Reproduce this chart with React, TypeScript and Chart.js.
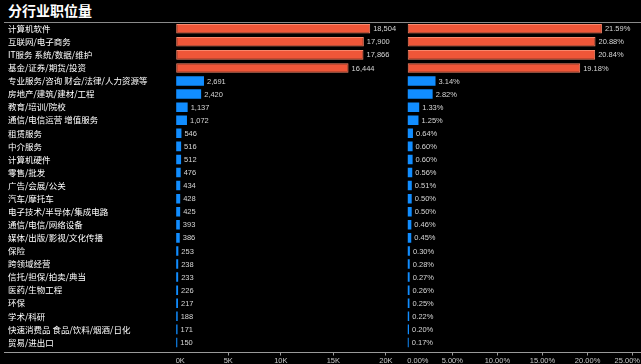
import React, { useEffect, useRef } from 'react';
import { Chart, registerables } from 'chart.js';

Chart.register(...registerables);

const categories = [
  '计算机软件',
  '互联网/电子商务',
  'IT服务 系统/数据/维护',
  '基金/证券/期货/投资',
  '专业服务/咨询 财会/法律/人力资源等',
  '房地产/建筑/建材/工程',
  '教育/培训/院校',
  '通信/电信运营 增值服务',
  '租赁服务',
  '中介服务',
  '计算机硬件',
  '零售/批发',
  '广告/会展/公关',
  '汽车/摩托车',
  '电子技术/半导体/集成电路',
  '通信/电信/网络设备',
  '媒体/出版/影视/文化传播',
  '保险',
  '跨领域经营',
  '信托/担保/拍卖/典当',
  '医药/生物工程',
  '环保',
  '学术/科研',
  '快速消费品 食品/饮料/烟酒/日化',
  '贸易/进出口',
];

const jobCounts = [
  18504, 17900, 17866, 16444, 2691, 2420, 1137, 1072, 546, 516, 512, 476, 434,
  428, 425, 393, 386, 253, 238, 233, 226, 217, 188, 171, 150,
];

const jobShares = [
  21.59, 20.88, 20.84, 19.18, 3.14, 2.82, 1.33, 1.25, 0.64, 0.6, 0.6, 0.56,
  0.51, 0.5, 0.5, 0.46, 0.45, 0.3, 0.28, 0.27, 0.26, 0.25, 0.22, 0.2, 0.17,
];

const countTicks = [0, 5000, 10000, 15000, 20000];
const shareTicks = [0, 5, 10, 15, 20, 25];
const TOP_GROUP = 4;

const CJK = '"Noto Sans CJK SC", "Noto Sans", sans-serif';
const NUM = '"Liberation Sans", Arial, sans-serif';
const RED = '#EF5638';
const RED_EDGE = '#F8876B';
const BLUE = '#118DFF';

const fmtCount = (v: number) => v.toLocaleString('en-US');
const fmtShare = (v: number) => v.toFixed(2) + '%';
const fmtCountTick = (v: number) => v / 1000 + 'K';

function valueLabels(fmt: (v: number) => string) {
  return {
    id: 'valueLabels',
    afterDatasetsDraw(chart: any) {
      const { ctx } = chart;
      const meta = chart.getDatasetMeta(0);
      const data = chart.data.datasets[0].data;
      ctx.save();
      ctx.font = `7.5px ${NUM}`;
      ctx.fillStyle = '#d6d6d6';
      ctx.textBaseline = 'middle';
      ctx.textAlign = 'left';
      meta.data.forEach((bar: any, i: number) => {
        ctx.fillText(fmt(data[i].x), bar.x + 3, bar.y + 0.5);
      });
      ctx.restore();
    },
  };
}

function axisLabels(fmt: (v: number) => string, limit: number) {
  return {
    id: 'axisLabels',
    afterDraw(chart: any) {
      const { ctx } = chart;
      const sc = chart.scales.x;
      ctx.save();
      ctx.font = `7.5px ${NUM}`;
      ctx.fillStyle = '#c8c8c8';
      ctx.textBaseline = 'alphabetic';
      ctx.textAlign = 'left';
      sc.ticks.forEach((t: any) => {
        const text = fmt(t.value);
        const w = ctx.measureText(text).width;
        const px = sc.getPixelForValue(t.value);
        let x0 = px - w / 2;
        x0 = Math.max(x0, chart.chartArea.left);
        x0 = Math.min(x0, limit - w);
        ctx.fillText(text, x0, sc.top + 10.5);
      });
      ctx.restore();
    },
  };
}

function makeX(max: number, tickValues: number[]) {
  return {
    type: 'linear',
    position: 'bottom',
    bounds: 'data',
    min: 0,
    max,
    afterBuildTicks(s: any) {
      s.ticks = tickValues.map((v) => ({ value: v }));
    },
    ticks: { display: false },
    grid: {
      display: true,
      drawOnChartArea: false,
      drawTicks: true,
      tickLength: 3,
      color: (c: any) => (c.tick && c.tick.value === 0 ? 'rgba(0,0,0,0)' : '#9a9a9a'),
    },
    border: { display: false },
    afterFit(s: any) {
      s.height = 11.5;
    },
  };
}

function makeY(showLabels: boolean) {
  const y: any = {
    type: 'linear',
    reverse: true,
    offset: false,
    bounds: 'data',
    min: -0.5,
    max: 24.77,
    display: showLabels,
    afterBuildTicks(s: any) {
      s.ticks = categories.map((_, i) => ({ value: i }));
    },
    ticks: {
      autoSkip: false,
      crossAlign: 'far',
      padding: 0,
      color: '#ffffff',
      font: { family: CJK, size: 8.5 },
      callback: (v: number) => categories[v] ?? '',
    },
    grid: { display: false, drawTicks: false, offset: false },
    border: { display: false },
  };
  if (showLabels) {
    y.afterFit = (s: any) => {
      s.width = 167.7;
    };
  }
  return y;
}

function makeConfig(
  values: number[],
  xMax: number,
  tickValues: number[],
  showLabels: boolean,
  padLeft: number,
  padRight: number,
  fmt: (v: number) => string,
  tickFmt: (v: number) => string,
  limit: number
): any {
  return {
    type: 'bar',
    data: {
      datasets: [
        {
          data: values.map((v, i) => ({ x: v, y: i })),
          backgroundColor: (c: any) => (c.dataIndex < TOP_GROUP ? RED : BLUE),
          borderColor: (c: any) => (c.dataIndex < TOP_GROUP ? RED_EDGE : BLUE),
          borderWidth: (c: any) => (c.dataIndex < TOP_GROUP ? 1 : 0),
          borderSkipped: false,
          categoryPercentage: 1,
          barPercentage: 0.73,
        },
      ],
    },
    options: {
      indexAxis: 'y',
      animation: false,
      responsive: false,
      maintainAspectRatio: false,
      layout: { padding: { left: padLeft, right: padRight, top: 22.2, bottom: 0 } },
      plugins: { legend: { display: false }, tooltip: { enabled: false } },
      scales: { x: makeX(xMax, tickValues), y: makeY(showLabels) },
    },
    plugins: [valueLabels(fmt), axisLabels(tickFmt, limit)],
  };
}

export default function App() {
  const leftRef = useRef<HTMLCanvasElement>(null);
  const rightRef = useRef<HTMLCanvasElement>(null);

  useEffect(() => {
    document.body.style.margin = '0';
    document.body.style.background = '#000';
    document.body.style.overflow = 'hidden';
    const left = new Chart(
      leftRef.current!,
      makeConfig(jobCounts, 21150, countTicks, true, 8, 4, fmtCount, fmtCountTick, 402)
    );
    const right = new Chart(
      rightRef.current!,
      makeConfig(jobShares, 25.59, shareTicks, false, 5.2, 8, fmtShare, fmtShare, 238)
    );
    return () => {
      left.destroy();
      right.destroy();
    };
  }, []);

  return (
    <div
      style={{
        position: 'absolute',
        left: 0,
        top: 0,
        width: 641,
        height: 364,
        background: '#000',
        overflow: 'hidden',
      }}
    >
      <div
        style={{
          position: 'absolute',
          left: 8,
          top: 1,
          fontFamily: CJK,
          fontWeight: 700,
          fontSize: 14,
          lineHeight: '18px',
          color: '#fff',
          whiteSpace: 'nowrap',
        }}
      >
        分行业职位量
      </div>
      <div style={{ position: 'absolute', left: 4, right: 0, top: 21.5, height: 1, background: '#8a8a8a' }} />
      <div style={{ position: 'absolute', left: 4, right: 0, top: 352, height: 1, background: '#9a9a9a' }} />
      <canvas
        ref={leftRef}
        width={402}
        height={364}
        style={{ position: 'absolute', left: 0, top: 0, width: 402, height: 364 }}
      />
      <canvas
        ref={rightRef}
        width={244}
        height={364}
        style={{ position: 'absolute', left: 402, top: 0, width: 244, height: 364 }}
      />
    </div>
  );
}
